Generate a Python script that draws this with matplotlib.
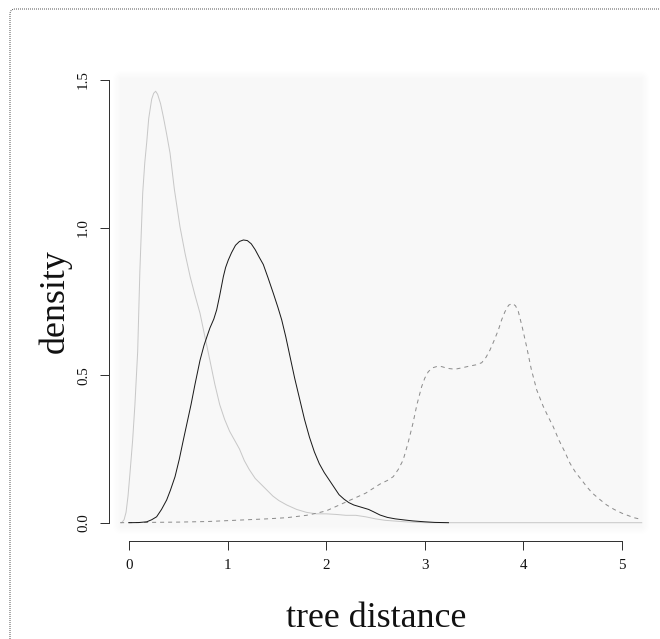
import numpy as np
import matplotlib
matplotlib.use("Agg")
import matplotlib.pyplot as plt
from matplotlib.patches import FancyBboxPatch

# ---- data ----
light_x = [-0.074, -0.05, -0.03, -0.01, 0.01, 0.037, 0.06, 0.088, 0.11, 0.139, 0.16, 0.18,
           0.2, 0.23, 0.25, 0.27, 0.29, 0.32, 0.348, 0.38, 0.416, 0.46, 0.517, 0.57, 0.62,
           0.67, 0.72, 0.77, 0.82, 0.87, 0.92, 0.97, 1.02, 1.07, 1.12, 1.17, 1.22, 1.28,
           1.34, 1.4, 1.46, 1.52, 1.6, 1.7, 1.8, 1.9, 2.0, 2.1, 2.2, 2.3, 2.4, 2.5, 2.6,
           2.8, 3.0, 5.2]
light_y = [0.0, 0.01, 0.035, 0.09, 0.168, 0.28, 0.40, 0.58, 0.85, 1.117, 1.22, 1.29,
           1.37, 1.435, 1.455, 1.462, 1.452, 1.42, 1.376, 1.32, 1.253, 1.13, 1.003, 0.91,
           0.834, 0.77, 0.71, 0.63, 0.551, 0.47, 0.40, 0.35, 0.31, 0.28, 0.25, 0.21, 0.18,
           0.15, 0.13, 0.11, 0.09, 0.075, 0.06, 0.045, 0.035, 0.03, 0.03, 0.028, 0.025,
           0.025, 0.02, 0.013, 0.008, 0.003, 0.0, 0.0]

black_x = [0.0, 0.1, 0.18, 0.23, 0.28, 0.33, 0.382, 0.42, 0.467, 0.51, 0.551, 0.59, 0.629,
           0.67, 0.72, 0.76, 0.79, 0.821, 0.86, 0.889, 0.92, 0.957, 0.98, 1.007, 1.04, 1.08,
           1.12, 1.16, 1.2, 1.24, 1.28, 1.32, 1.362, 1.41, 1.464, 1.51, 1.549, 1.59, 1.633,
           1.68, 1.73, 1.78, 1.83, 1.88, 1.93, 1.98, 2.03, 2.08, 2.13, 2.18, 2.23, 2.28,
           2.33, 2.38, 2.43, 2.48, 2.546, 2.62, 2.7, 2.8, 2.88, 3.0, 3.1, 3.24]
black_y = [0.0, 0.0005, 0.003, 0.01, 0.02, 0.045, 0.077, 0.11, 0.156, 0.215, 0.28, 0.34,
           0.40, 0.47, 0.55, 0.60, 0.63, 0.66, 0.69, 0.721, 0.77, 0.834, 0.865, 0.89, 0.915,
           0.94, 0.953, 0.958, 0.956, 0.945, 0.925, 0.90, 0.875, 0.83, 0.777, 0.73, 0.687,
           0.63, 0.563, 0.49, 0.42, 0.35, 0.29, 0.24, 0.20, 0.17, 0.145, 0.12, 0.095, 0.08,
           0.068, 0.06, 0.055, 0.05, 0.045, 0.037, 0.026, 0.018, 0.013, 0.009, 0.006, 0.003,
           0.001, 0.0]

dash_x = [-0.09, 0.2, 0.5, 0.8, 1.0, 1.2, 1.4, 1.6, 1.8, 1.9, 2.0, 2.1, 2.2, 2.3, 2.4, 2.47,
          2.546, 2.62, 2.68, 2.73, 2.78, 2.83, 2.88, 2.92, 2.968, 3.0, 3.036, 3.08, 3.12,
          3.17, 3.23, 3.306, 3.38, 3.458, 3.52, 3.577, 3.62, 3.661, 3.7, 3.746, 3.78, 3.813,
          3.85, 3.888, 3.92, 3.949, 3.99, 4.033, 4.08, 4.135, 4.2, 4.25, 4.303, 4.36, 4.42,
          4.473, 4.53, 4.59, 4.642, 4.7, 4.77, 4.845, 4.92, 5.0, 5.048, 5.12, 5.2]
dash_y = [0.0, 0.001, 0.002, 0.004, 0.007, 0.01, 0.013, 0.017, 0.025, 0.032, 0.04, 0.055,
          0.07, 0.085, 0.1, 0.115, 0.131, 0.143, 0.156, 0.18, 0.212, 0.27, 0.337, 0.40,
          0.461, 0.49, 0.512, 0.525, 0.529, 0.529, 0.523, 0.520, 0.525, 0.531, 0.535, 0.542,
          0.56, 0.585, 0.615, 0.653, 0.688, 0.715, 0.737, 0.743, 0.735, 0.715, 0.66, 0.596,
          0.52, 0.45, 0.395, 0.36, 0.325, 0.28, 0.24, 0.201, 0.17, 0.145, 0.122, 0.10, 0.08,
          0.06, 0.045, 0.032, 0.026, 0.017, 0.011]

x_ticks = [0, 1, 2, 3, 4, 5]
y_ticks = [0.0, 0.5, 1.0, 1.5]
y_ticklabels = ["0.0", "0.5", "1.0", "1.5"]
x_label = "tree distance"
y_label = "density"

# ---- figure ----
W, H, DPI = 660, 639, 72
fig = plt.figure(figsize=(W / DPI, H / DPI), dpi=DPI)
plt.rcParams['font.family'] = ['Liberation Serif', 'DejaVu Serif']

L, R, T, B = 112, 650, 70, 535
ax = fig.add_axes([L / W, 1 - B / H, (R - L) / W, (B - T) / H])
ax.set_xlim(-0.1724, 5.284)
ax.set_ylim(-0.0417, 1.534)
ax.patch.set_alpha(0)

# soft gray panel
pw, ph = R - L, B - T
xx = np.arange(pw) + 0.5
yy = np.arange(ph) + 0.5
ramp = 8.0
dx = np.clip(np.minimum(xx, pw - xx) / ramp, 0, 1)
dy = np.clip(np.minimum(yy, ph - yy) / ramp, 0, 1)
m = np.outer(dy, dx)
img = 1 - 0.028 * m
ax.imshow(img, cmap='gray', vmin=0, vmax=1, extent=[0, 1, 0, 1], transform=ax.transAxes,
          aspect='auto', zorder=0, interpolation='bilinear')

ax.plot(light_x, light_y, color='#c8c8c8', lw=1.0, zorder=2)
ax.plot(dash_x, dash_y, color='#8c8c8c', lw=1.0, ls=(0, (4, 4)), zorder=3)
ax.plot(black_x, black_y, color='#1a1a1a', lw=1.0, zorder=4)

for s in ['top', 'right']:
    ax.spines[s].set_visible(False)
ax.spines['left'].set_position(('outward', 3))
ax.spines['bottom'].set_position(('outward', 6))
ax.spines['left'].set_bounds(0, 1.5)
ax.spines['bottom'].set_bounds(0, 5)
for s in ['left', 'bottom']:
    ax.spines[s].set_color('#333333')
    ax.spines[s].set_linewidth(1.0)

ax.set_xticks(x_ticks)
ax.set_xticklabels([str(t) for t in x_ticks])
ax.set_yticks(y_ticks)
ax.set_yticklabels(y_ticklabels, rotation=90, va='center')
ax.tick_params(axis='both', direction='out', length=9, width=1.0, color='#333333',
               labelsize=15, labelcolor='#111111')
ax.tick_params(axis='x', pad=9)
ax.tick_params(axis='y', pad=10)

fig.text(376 / W, 1 - 627 / H, x_label, ha='center', va='baseline', fontsize=36,
         color='#111111')
fig.text(72 / W, 1 - 301 / H, y_label, ha='right', va='center', rotation=90, fontsize=36,
         color='#111111')

# dotted frame
frame = FancyBboxPatch((10 / W, -20 / H), (W + 30) / W, (H - 9 + 20) / H,
                       boxstyle="round,pad=0,rounding_size=0.008",
                       transform=fig.transFigure, fill=False, ec='#555555', lw=1.0,
                       ls=(0, (1, 1)), clip_on=False)
fig.patches.append(frame)

fig.savefig("out.png", dpi=DPI)
